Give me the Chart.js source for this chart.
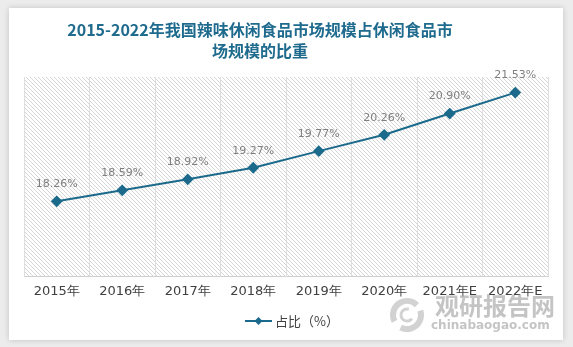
<!DOCTYPE html>
<html>
<head>
<meta charset="utf-8">
<script src="https://cdn.jsdelivr.net/npm/chart.js@4/dist/chart.umd.min.js"></script>
<style>
  body { margin: 0; background: #ececec; width: 573px; height: 347px; overflow: hidden; }
  #card { position: absolute; left: 9px; top: 8px; width: 554px; height: 332px; background: #fff;
          box-shadow: 0 0 6px rgba(0,0,0,0.18); }
  canvas { display: block; }
</style>
</head>
<body>
<div id="card"><canvas id="grafico" width="554" height="332"></canvas></div>
<script>
const anos = ['2015年', '2016年', '2017年', '2018年', '2019年', '2020年', '2021年E', '2022年E'];
const participacao = [18.26, 18.59, 18.92, 19.27, 19.77, 20.26, 20.90, 21.53];
const tituloLinhas = ['2015-2022年我国辣味休闲食品市场规模占休闲食品市', '场规模的比重'];
const legendaTexto = '占比（%）';

const corLinha = '#1b6a8c';

// textura listrada do fundo
const pc = document.createElement('canvas');
pc.width = 4; pc.height = 4;
const pctx = pc.getContext('2d');
pctx.fillStyle = '#fff';
pctx.fillRect(0, 0, 4, 4);
pctx.strokeStyle = '#d6d6d6';
pctx.lineWidth = 1;
pctx.beginPath();
pctx.moveTo(-1, -1); pctx.lineTo(5, 5);
pctx.moveTo(-1, 3); pctx.lineTo(1, 5);
pctx.moveTo(3, -1); pctx.lineTo(5, 1);
pctx.stroke();

const fundoHachurado = {
  id: 'fundoHachurado',
  beforeDraw(chart) {
    const { ctx, chartArea: a } = chart;
    ctx.save();
    ctx.fillStyle = ctx.createPattern(pc, 'repeat');
    ctx.fillRect(a.left, a.top, a.right - a.left, a.bottom - a.top);
    ctx.restore();
  }
};

const rotulos = {
  id: 'rotulos',
  afterDatasetsDraw(chart) {
    const { ctx } = chart;
    const meta = chart.getDatasetMeta(0);
    ctx.save();
    ctx.font = '11px "DejaVu Sans", sans-serif';
    ctx.fillStyle = '#7f7f7f';
    ctx.textAlign = 'center';
    ctx.textBaseline = 'middle';
    meta.data.forEach((p, i) => {
      ctx.fillText(participacao[i].toFixed(2) + '%', p.x, p.y - 17);
    });
    ctx.restore();
  }
};

const tituloELegenda = {
  id: 'tituloELegenda',
  afterDraw(chart) {
    const { ctx } = chart;
    ctx.save();
    // titulo
    ctx.fillStyle = '#1f6b8e';
    ctx.font = 'bold 16px "Noto Sans CJK SC", sans-serif';
    ctx.textAlign = 'center';
    ctx.textBaseline = 'middle';
    ctx.fillText(tituloLinhas[0], 251, 22);
    ctx.fillText(tituloLinhas[1], 251, 43);

    // legenda
    const y = 313;
    ctx.strokeStyle = corLinha;
    ctx.lineWidth = 2;
    ctx.beginPath();
    ctx.moveTo(236, y); ctx.lineTo(263, y);
    ctx.stroke();
    ctx.fillStyle = corLinha;
    ctx.beginPath();
    ctx.moveTo(249.5, y - 4); ctx.lineTo(253.5, y); ctx.lineTo(249.5, y + 4); ctx.lineTo(245.5, y);
    ctx.closePath(); ctx.fill();
    ctx.fillStyle = '#404040';
    ctx.font = '13px "Noto Sans CJK SC", sans-serif';
    ctx.textAlign = 'left';
    ctx.fillText(legendaTexto, 266, y);

    // marca d'agua
    ctx.globalAlpha = 0.6;
    ctx.strokeStyle = '#b4b4b4';
    ctx.lineWidth = 6;
    const cx = 398, cy = 307;
    ctx.beginPath();
    ctx.arc(cx, cy, 14, Math.PI * 0.85, Math.PI * 1.75);
    ctx.stroke();
    ctx.beginPath();
    ctx.arc(cx, cy, 14, Math.PI * 1.9, Math.PI * 0.65);
    ctx.stroke();
    ctx.lineWidth = 3;
    ctx.beginPath();
    ctx.arc(cx, cy, 6, Math.PI * 0.2, Math.PI * 1.6);
    ctx.stroke();
    ctx.fillStyle = '#9c9c9c';
    ctx.font = 'bold 24px "Noto Sans CJK SC", sans-serif';
    ctx.fillText('观研报告网', 426, 298);
    ctx.font = 'bold 12px "DejaVu Sans", sans-serif';
    ctx.fillText('chinabaogao.com', 422, 318);
    ctx.restore();
  }
};

new Chart(document.getElementById('grafico'), {
  type: 'line',
  data: {
    labels: anos,
    datasets: [{
      label: legendaTexto,
      data: participacao,
      borderColor: corLinha,
      backgroundColor: corLinha,
      borderWidth: 2,
      pointStyle: 'rectRot',
      pointRadius: 4.5,
      pointHoverRadius: 4.5,
      tension: 0
    }]
  },
  options: {
    responsive: false,
    animation: false,
    layout: { padding: { left: 15, right: 15, top: 69, bottom: 34 } },
    plugins: {
      legend: { display: false },
      tooltip: { enabled: false },
      title: { display: false }
    },
    scales: {
      x: {
        offset: true,
        grid: { offset: true, color: '#dedede', drawTicks: false },
        border: { color: '#d0d0d0' },
        ticks: { color: '#404040', font: { size: 13, family: '"DejaVu Sans", sans-serif' }, padding: 7, maxRotation: 0, autoSkip: false }
      },
      y: { display: false, min: 16, max: 22 }
    }
  },
  plugins: [fundoHachurado, rotulos, tituloELegenda]
});
</script>
</body>
</html>
